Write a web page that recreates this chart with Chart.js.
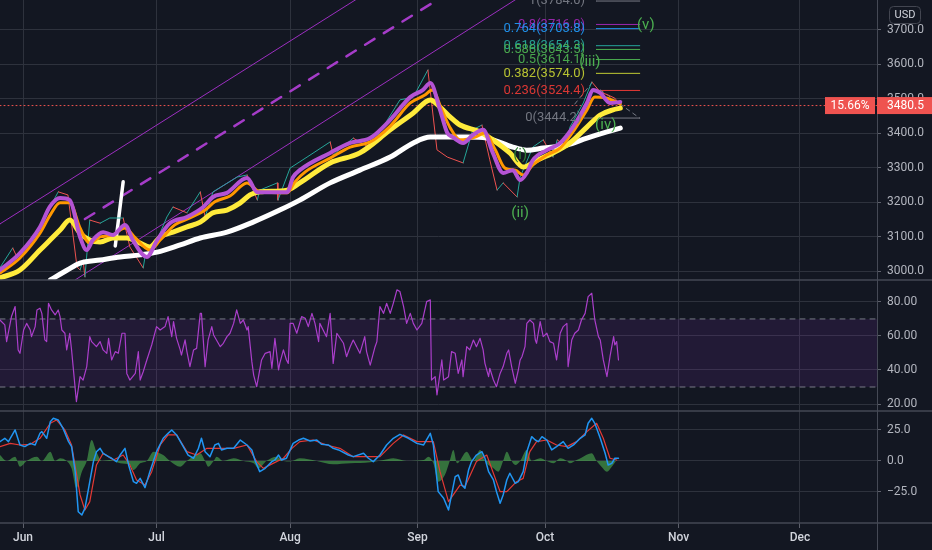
<!DOCTYPE html>
<html>
<head>
<meta charset="utf-8">
<script src="https://cdn.jsdelivr.net/npm/chart.js@4.4.0/dist/chart.umd.min.js"></script>
<style>
  html, body { margin: 0; padding: 0; background: #131722; }
  #wrap { position: relative; width: 932px; height: 550px; }
  canvas { display: block; }
</style>
</head>
<body>
<div id="wrap"><canvas id="chart" width="932" height="550"></canvas></div>
<script>
// x values are trading-day indexes, 0 = 1 Jun
const monthTickDays = [0, 22, 44, 65, 86, 108, 128];
const monthTickLabels = ['Jun', 'Jul', 'Aug', 'Sep', 'Oct', 'Nov', 'Dec'];
const priceTicks = [3000, 3100, 3200, 3300, 3400, 3500, 3600, 3700];
const rsiTicks = [20, 40, 60, 80];
const macdTicks = [-25, 0, 25];

// price pane: [day, price]
const emaFast = [[-3.8,3003],[-0.5,3052],[2.8,3128],[4.4,3186],[6.1,3212],[7.7,3206],[9.4,3099],[10.5,3061],[11.5,3090],[13.2,3113],[14.8,3105],[16.8,3134],[18.1,3090],[20.4,3041],[22.1,3090],[24.2,3139],[27,3157],[29.7,3186],[31.3,3215],[33.6,3227],[36.9,3270],[38.6,3229],[43.5,3229],[44.5,3273],[45.6,3293],[50.6,3343],[53.9,3372],[57.2,3386],[60.5,3439],[63.8,3505],[65.9,3526],[67.1,3546],[68.7,3468],[69.9,3401],[70.8,3389],[72.5,3372],[74.1,3395],[75.8,3410],[77.4,3343],[79.1,3285],[80.7,3293],[81.9,3264],[83,3285],[84,3322],[86.3,3351],[88.5,3372],[90.6,3418],[92.9,3488],[93.9,3526],[95.1,3517],[96.7,3488],[98.4,3491]];
const emaMid = [[-3.8,2994],[-0.5,3038],[2.8,3110],[4.5,3163],[6.1,3198],[7.7,3198],[9.4,3125],[11.0,3081],[12.7,3099],[14.8,3105],[16.8,3125],[18.5,3096],[20.9,3061],[22.6,3090],[25.0,3134],[27.5,3154],[30.0,3177],[31.6,3201],[34.1,3218],[36.9,3256],[39.0,3230],[43.5,3227],[44.8,3259],[46.5,3288],[50.6,3328],[53.9,3360],[57.2,3375],[60.5,3421],[63.8,3488],[66.2,3511],[67.4,3526],[69.0,3468],[70.4,3415],[72.0,3381],[74.5,3389],[76.1,3401],[77.8,3352],[79.4,3299],[81.1,3293],[82.4,3279],[84.0,3308],[86.3,3337],[88.5,3357],[90.6,3404],[92.9,3468],[94.2,3505],[95.9,3503],[98.4,3485]];
const emaSlow = [[-3.8,2980],[-0.5,3003],[2.8,3061],[6.1,3119],[7.7,3148],[9.4,3110],[11.0,3090],[12.7,3084],[14.8,3096],[17.1,3096],[19.3,3081],[20.9,3070],[22.6,3099],[24.7,3113],[27.0,3128],[29.2,3142],[31.3,3169],[33.6,3177],[35.8,3198],[37.4,3221],[39.0,3230],[43.5,3235],[45.6,3256],[50.6,3314],[55.5,3343],[60.5,3410],[64.3,3459],[67.1,3497],[68.7,3476],[70.4,3447],[72.0,3424],[75.3,3404],[77.4,3381],[80.2,3343],[82.4,3302],[84.7,3322],[87.3,3343],[90.1,3372],[92.9,3418],[95.1,3453],[97.2,3468],[98.4,3473]];
const maLong = [[4.5,2974],[7.3,3003],[9.4,3023],[12.7,3032],[16.0,3041],[19.3,3047],[22.1,3055],[25.9,3076],[29.2,3096],[33.6,3113],[37.9,3142],[42.3,3177],[45.6,3206],[50.6,3256],[55.5,3293],[60.5,3331],[64.3,3372],[67.1,3389],[68.7,3389],[73.2,3389],[76.4,3386],[80.7,3360],[83.0,3351],[85.7,3357],[89.6,3366],[92.9,3386],[96.2,3404],[98.4,3415]];
const priceSwings = [[-3.8,3010],[-1.7,3067],[-1.0,3041],[2.0,3105],[5.8,3230],[7.4,3221],[8.9,3012],[9.4,3003],[9.9,3032],[10.2,2983],[11.0,3148],[12.7,3139],[14.3,3154],[16.5,3154],[17.6,3070],[19.8,3009],[20.1,3041],[22.1,3090],[23.7,3157],[24.7,3186],[27.0,3169],[29.2,3230],[30.0,3157],[31.3,3230],[35.3,3273],[36.9,3279],[38.6,3206],[39.0,3235],[41.9,3256],[42.0,3206],[44.0,3299],[46.8,3331],[50.6,3375],[51.1,3337],[54.4,3386],[57.2,3357],[59.3,3418],[62.1,3497],[64.3,3505],[66.7,3584],[68.2,3352],[69.9,3331],[72.5,3314],[74.1,3410],[75.6,3424],[76.9,3323],[78.1,3235],[79.1,3256],[81.4,3215],[81.9,3273],[84.0,3360],[85.7,3381],[87.3,3331],[88.0,3381],[89.6,3360],[90.1,3418],[92.3,3488],[93.7,3549],[95.1,3520],[96.4,3511],[97.5,3502],[98.4,3480.5]];
const lastPrice = 3480.5;
const lastChange = '15.66%';

// drawings on the price pane
const channelUpper = [[-3.79,3137],[55.9,3800]];
const channelLower = [[8.57,2974],[82.2,3800]];
const channelMid = [[10.2,3151],[69.4,3800]];
const markStroke = [[15.2,3073],[16.5,3259]];
const projA = [[90.9,3485],[93.7,3546]];
const projB = [[95.1,3526],[101.6,3444]];
const fibLevels = [1, 0.8, 0.764, 0.618, 0.586, 0.5, 0.382, 0.236, 0];
const fibPrices = [3784.0, 3716.0, 3703.8, 3654.3, 3643.5, 3614.1, 3574.0, 3524.4, 3444.2];
const fibFrom = 94.4, fibTo = 101.6;
const waveNames = ['(i)', '(ii)', '(iii)', '(iv)', '(v)'];
const waveDays = [81.9, 81.9, 93.4, 96.0, 102.6];
const wavePrices = [3337, 3169, 3607, 3424, 3714];

// RSI pane
const rsi = [[-3.8,69.4],[-3.0,66.5],[-2.7,56.7],[-1.9,71.4],[-1.3,77.3],[-0.8,51.8],[-0.5,49.8],[0.1,63.5],[0.6,67.4],[1.2,63.5],[1.4,59.6],[2.0,65.5],[2.3,75.3],[2.8,76.3],[3.1,73.3],[3.6,57.7],[3.9,56.7],[4.2,79.2],[4.7,75.3],[5.3,72.4],[5.8,75.3],[6.1,71.4],[6.4,63.5],[6.9,61.6],[7.2,51.8],[7.7,61.6],[8.0,51.8],[8.8,21.4],[9.4,36.1],[9.9,34.1],[10.5,42],[11.0,59.6],[11.3,56.7],[12.1,53.7],[12.7,56.7],[13.2,51.8],[13.8,49.8],[14.1,58.6],[14.6,45.9],[15.2,50.8],[15.7,49.8],[16.3,61.6],[16.8,61.6],[17.1,38.0],[17.6,34.1],[18.5,38],[19.0,50.8],[19.3,34.1],[19.8,39],[20.4,45.9],[21.2,54.7],[22.0,65.5],[22.6,63.5],[23.4,65.5],[23.9,71.4],[24.5,59.6],[24.8,68.4],[25.3,58.6],[25.9,51.8],[26.1,48.8],[26.7,57.7],[27.0,50.8],[27.5,42],[28.1,51.8],[28.6,52.7],[29.2,73.3],[29.4,73.3],[30.0,42],[30.5,57.7],[31.1,65.5],[31.4,60.6],[32.5,53.7],[33.0,55.7],[33.6,59.6],[34.1,61.6],[34.7,67.4],[35.2,75.3],[35.8,67.4],[36.3,69.4],[36.9,63.5],[37.1,65.5],[37.7,44.9],[38.0,37.0],[38.5,30.2],[38.8,36.1],[39.3,45.9],[39.9,49.8],[40.7,50.8],[41.0,41],[41.5,58.6],[42.1,40],[42.3,43.9],[42.9,51.8],[43.4,45.9],[43.7,43.9],[44.0,67.4],[44.5,67.4],[45.1,61.6],[45.9,71.4],[46.5,70.4],[47.0,65.5],[47.6,73.3],[48.1,67.4],[48.7,56.7],[48.9,67.4],[50.0,59.6],[50.6,73.3],[51.1,43.9],[51.7,61.6],[52.8,55.7],[53.3,47.8],[53.9,53.7],[54.4,57.6],[55.5,49.8],[56.3,59.6],[56.6,50.8],[57.2,42.9],[58.0,53.7],[58.3,56.7],[58.8,77.3],[59.4,73.3],[59.9,79.2],[60.5,73.3],[61.0,79.2],[61.6,87.1],[62.1,86.1],[62.7,77.3],[63.2,67.4],[63.8,73.3],[64.3,67.4],[64.9,63.5],[65.7,67.4],[66.5,80.2],[67.1,81.2],[67.3,34.1],[67.9,36.1],[68.2,25.3],[68.7,38],[69.0,45.9],[69.3,34.1],[70.1,36.1],[70.6,50.8],[71.2,49.8],[71.7,38],[72.3,45.9],[72.5,36.1],[73.1,53.7],[73.6,51.8],[74.2,57.6],[74.7,53.7],[75.3,58.6],[75.8,51.8],[76.1,43.9],[76.7,36.1],[76.9,41],[77.5,34.1],[78.0,30.2],[78.6,38],[79.1,42],[79.7,49.8],[80.0,51.8],[80.5,42],[81.1,32.2],[81.6,40],[81.9,45.9],[82.2,47.8],[82.7,53.7],[83.0,67.4],[83.5,69.4],[84.1,67.4],[84.4,57.6],[84.6,55.7],[85.2,68.4],[85.7,59.6],[86.3,61.6],[86.8,56.7],[87.4,55.7],[87.9,45.9],[88.5,61.6],[89.0,65.5],[89.6,67.4],[89.8,42],[90.4,57.6],[90.9,61.6],[91.5,63.5],[92.0,69.4],[92.6,73.3],[93.1,83.1],[93.7,85.1],[94.2,69.4],[94.8,59.6],[95.1,57.6],[95.6,45.9],[96.2,36.1],[96.7,47.8],[97.3,59.6],[97.5,54.7],[97.8,56.7],[98.1,45.9]];
const rsiUpper = 70, rsiLower = 30;

// MACD pane
const macdLine = [[-3.8,15.6],[-3.0,18.3],[-2.4,15.6],[-1.3,25],[-0.5,12.9],[0.3,11.6],[1.2,14.2],[2.0,12.9],[2.8,22.3],[3.1,23.7],[3.9,18.3],[4.5,31.7],[5.0,34.4],[5.8,33.1],[6.6,26.3],[7.5,15.6],[8.0,11.6],[8.6,-8.6],[9.1,-40.9],[9.7,-43.5],[10.2,-38.2],[10.8,-22],[11.6,-0.5],[12.1,7.5],[12.7,10.2],[13.2,6.2],[14.1,3.5],[14.6,2.2],[15.4,-0.5],[16.0,4.8],[16.8,10.2],[17.4,-3.2],[18.2,-16.7],[18.7,-18],[19.3,-14],[20.1,-21.5],[20.9,-8.6],[22.0,7.5],[23.1,18.3],[23.9,22.3],[24.5,25],[25.3,21],[26.1,14.2],[27.2,4.8],[28.1,2.2],[28.9,10.2],[29.4,18.3],[30.0,7.5],[30.8,3.5],[31.6,12.9],[32.2,14.2],[32.7,8.9],[33.6,10.2],[34.7,10.2],[35.8,16.9],[36.9,12.9],[37.7,8.9],[38.2,0.8],[39.0,-8.6],[39.9,-5.9],[41.0,-0.5],[41.5,0.8],[42.1,4.8],[42.6,0.8],[43.4,2.2],[44.5,14.2],[45.4,16.9],[46.2,18.3],[47.3,16.1],[48.4,16.9],[49.2,13.4],[50.3,12.9],[51.1,10.2],[52.0,8.9],[53.6,4.8],[54.4,3.5],[56.1,6.2],[56.9,2.2],[57.7,-0.5],[58.8,4.8],[59.9,12.9],[61.0,18.3],[62.1,21.5],[63.5,18.3],[64.9,14.2],[66.0,12.9],[67.1,22.3],[67.6,12.9],[68.4,-24.7],[69.3,-30.1],[70.1,-39.5],[70.6,-27.4],[71.2,-12.6],[71.7,-11.3],[72.3,-19.4],[72.8,-22],[73.4,-7.3],[73.9,-0.5],[74.7,4.8],[75.6,7.5],[76.1,2.2],[76.7,-8.6],[77.5,-15.3],[78.0,-24.7],[78.6,-34.1],[79.1,-27.4],[79.7,-15.3],[80.2,-9.9],[81.1,-18],[81.6,-16.7],[82.4,-8.6],[83.0,7.5],[83.8,19.6],[84.4,16.9],[84.9,15.6],[85.5,19.6],[86.3,16.9],[87.1,8.9],[87.9,11.6],[89.0,15.6],[89.8,10.2],[90.7,12.9],[91.8,18.3],[92.6,21],[93.1,30.4],[93.7,34.4],[94.2,30.4],[95.1,18.3],[95.9,6.2],[96.4,-3.2],[97.0,-1.9],[97.5,2.2],[98.1,2.2]];
const signalLine = [[-3.8,11.6],[-2.1,14.2],[-0.5,12.9],[1.2,13.4],[2.8,18.3],[4.5,30.4],[5.5,33.1],[6.9,25],[8.0,12.9],[9.4,-27.4],[10.2,-39.5],[11.0,-32.8],[12.1,-3.2],[13.2,6.2],[14.9,0.8],[16.5,4.8],[17.6,-3.2],[18.7,-15.3],[20.1,-19.4],[21.2,-8.6],[22.6,12.9],[23.9,21],[25.3,21],[27.0,7.5],[28.6,4.8],[30.3,10.2],[31.9,10.2],[34.7,10.2],[36.9,12.9],[38.5,-0.5],[39.6,-5.9],[41.2,-1.9],[42.9,2.2],[44.3,10.2],[45.6,15.6],[47.8,16.9],[50.0,12.9],[52.2,10.2],[54.4,3.5],[56.6,3.5],[58.8,3.5],[61.0,14.2],[62.7,21],[64.9,15.6],[67.6,15.6],[68.7,-8.6],[70.1,-32.8],[72.0,-19.4],[72.8,-20.7],[74.7,-0.5],[76.4,4.8],[78.6,-24.7],[79.7,-24.7],[81.3,-16.7],[82.4,-14],[83.5,7.5],[84.6,15.6],[86.3,16.9],[87.9,12.9],[89.6,11.6],[91.2,15.6],[92.9,23.7],[94.5,30.4],[95.6,18.3],[96.7,2.2],[97.8,0.8]];
const macdHist = [[-3.8,4.8],[-2.7,0],[-1.3,3.5],[-0.5,-4.6],[0.6,0],[2.3,3.5],[3.1,0],[4.5,7.5],[5.3,0],[6.1,2.2],[7.2,0],[8.0,-5.9],[8.8,-22],[9.7,-8.6],[10.5,0],[11.3,17],[12.1,7.5],[13.0,0],[14.3,0.8],[16.0,-1.9],[17.6,-3.2],[18.2,-7.3],[19.3,-1.9],[20.4,0],[21.5,7.5],[23.1,4.8],[24.2,0],[25.9,-4.6],[27.0,0],[29.2,6.2],[30.0,0],[30.5,-4.6],[31.4,0],[31.9,3.5],[33.0,0],[34.7,2.2],[36.3,0],[38.0,-1.9],[38.8,-5.9],[40.1,0],[41.8,3.5],[42.9,0],[44.0,-0.5],[45.6,2.2],[48.4,0],[51.1,-2.7],[53.9,-1.9],[57.2,-1.1],[59.4,0.8],[61.0,2.2],[63.2,0],[66.0,0.8],[66.8,3.5],[67.6,-1.9],[68.4,-16.7],[69.5,-11.3],[70.3,0],[70.9,8.9],[71.5,-1.9],[73.1,7.5],[74.2,0],[75.3,8.9],[76.1,0],[77.5,-5.9],[78.3,-8.6],[79.1,0],[79.7,7.5],[80.5,0],[81.1,-3.2],[81.9,0],[83.0,8.9],[83.8,0],[85.2,2.2],[86.3,0],[87.4,-1.9],[88.5,2.2],[89.6,0],[90.1,-1.9],[91.2,0.8],[92.0,2.7],[93.7,6.2],[94.5,0],[95.3,-4.6],[96.2,-8.6],[97.0,-4.6],[97.8,0.8]];

// ---- styling ----
const X_MIN = -3.79, X_MAX = 140.69;
const BG = '#131722', GRID = '#2e323d', TXT = '#b2b5be', SEP = '#454955';
const FONT = 'Roboto';
const fibColors = ['#787b86', '#9c27b0', '#2196f3', '#26a69a', '#4caf50', '#4caf50', '#c0ca33', '#e53935', '#787b86'];

const xy = pairs => pairs.map(([x, y]) => ({ x, y }));
const line = (pairs, axis, style) => Object.assign({
  data: xy(pairs), yAxisID: axis, pointRadius: 0, fill: false, tension: 0, borderWidth: 1
}, style);

const datasets = [
  line(emaFast, 'yPrice', { borderColor: '#b453d4', borderWidth: 4, cubicInterpolationMode: 'monotone' }),
  line(emaMid, 'yPrice', { borderColor: '#ff9800', borderWidth: 3, cubicInterpolationMode: 'monotone' }),
  line(emaSlow, 'yPrice', { borderColor: '#ffeb3b', borderWidth: 5, cubicInterpolationMode: 'monotone' }),
  line(maLong, 'yPrice', { borderColor: '#ffffff', borderWidth: 5, cubicInterpolationMode: 'monotone' }),
  line(priceSwings, 'yPrice', {
    borderWidth: 1,
    segment: { borderColor: c => c.p1.parsed.y >= c.p0.parsed.y ? '#26a69a' : '#ef5350' }
  }),
  line(markStroke, 'yPrice', { borderColor: '#ffffff', borderWidth: 3.5 }),
  line(channelUpper, 'yPrice', { borderColor: '#9c2fc0', borderWidth: 1 }),
  line(channelLower, 'yPrice', { borderColor: '#9c2fc0', borderWidth: 1 }),
  line(channelMid, 'yPrice', { borderColor: '#a53cc8', borderWidth: 2.5, borderDash: [11, 11] }),
  line(projA, 'yPrice', { borderColor: '#787b86', borderDash: [4, 4] }),
  line(projB, 'yPrice', { borderColor: '#787b86', borderDash: [4, 4] }),
  ...fibPrices.map((p, i) => line([[i === 8 ? 92.4 : fibFrom, p], [fibTo, p]], 'yPrice', { borderColor: fibColors[i] })),
  line([[X_MIN, lastPrice], [X_MAX, lastPrice]], 'yPrice', { borderColor: '#ef5350', borderDash: [1, 3] }),

  line(rsi, 'yRsi', { borderColor: '#ab3fcb', borderWidth: 1.2 }),
  line([[X_MIN, rsiUpper], [X_MAX, rsiUpper]], 'yRsi', { borderColor: '#787b86', borderDash: [5, 5] }),
  line([[X_MIN, rsiLower], [X_MAX, rsiLower]], 'yRsi', {
    borderColor: '#787b86', borderDash: [5, 5],
    fill: { value: rsiUpper }, backgroundColor: 'rgba(140, 50, 190, 0.13)'
  }),

  line(macdLine, 'yMacd', { borderColor: '#2196f3', borderWidth: 1.5 }),
  line(signalLine, 'yMacd', { borderColor: '#e53935', borderWidth: 1.2 }),
  line(macdHist, 'yMacd', {
    borderWidth: 0, fill: 'origin', backgroundColor: 'rgba(76, 175, 80, 0.6)',
    cubicInterpolationMode: 'monotone'
  })
];

function fixTicks(values) {
  return scale => { scale.ticks = values.map(v => ({ value: v })); };
}
function fixWidth(scale) {
  scale.width = 55;
  scale.paddingTop = 0; scale.paddingBottom = 0;
}
const yAxis = (min, max, weight, ticks, fmt) => ({
  type: 'linear', position: 'right', stack: 'panes', stackWeight: weight,
  min, max,
  afterBuildTicks: fixTicks(ticks),
  afterFit: fixWidth,
  grid: { color: GRID, tickLength: 4, tickColor: '#5d606b' },
  border: { display: false },
  ticks: { color: TXT, padding: 6, font: { family: FONT, size: 12 }, callback: fmt }
});

const overlay = {
  id: 'overlay',
  afterDraw(chart) {
    const { ctx, chartArea, scales } = chart;
    const x = scales.x, yp = scales.yPrice;
    ctx.save();

    // fib level captions
    ctx.save();
    ctx.beginPath();
    ctx.rect(chartArea.left, yp.top, chartArea.right - chartArea.left, yp.bottom - yp.top);
    ctx.clip();
    ctx.font = `13px ${FONT}`;
    ctx.textAlign = 'right';
    ctx.textBaseline = 'middle';
    fibLevels.forEach((lv, i) => {
      ctx.fillStyle = fibColors[i];
      ctx.globalAlpha = 0.95;
      ctx.fillText(`${lv}(${fibPrices[i].toFixed(1)})`,
        x.getPixelForValue(i === 8 ? 92.0 : 92.6), yp.getPixelForValue(fibPrices[i]));
    });
    // wave counts
    ctx.globalAlpha = 1;
    ctx.font = `15px ${FONT}`;
    ctx.textAlign = 'center';
    waveNames.forEach((w, i) => {
      ctx.fillStyle = i === 0 ? '#2e7d32' : '#4caf50';
      ctx.fillText(w, x.getPixelForValue(waveDays[i]), yp.getPixelForValue(wavePrices[i]));
    });
    ctx.restore();

    // pane separators and axis border
    ctx.strokeStyle = SEP;
    ctx.lineWidth = 1.5;
    [scales.yPrice.bottom, scales.yRsi.bottom, chartArea.bottom].forEach(yy => {
      ctx.beginPath(); ctx.moveTo(0, yy); ctx.lineTo(chart.width, yy); ctx.stroke();
    });
    ctx.lineWidth = 1;
    ctx.beginPath();
    ctx.moveTo(chartArea.right + 0.5, 0); ctx.lineTo(chartArea.right + 0.5, chart.height);
    ctx.stroke();

    // last price labels
    const py = yp.getPixelForValue(lastPrice);
    ctx.fillStyle = '#ef5350';
    ctx.fillRect(chartArea.right, py - 8.5, chart.width - chartArea.right, 17);
    ctx.fillRect(chartArea.right - 52, py - 8.5, 50, 17);
    ctx.fillStyle = '#ffffff';
    ctx.font = `12px ${FONT}`;
    ctx.textBaseline = 'middle';
    ctx.textAlign = 'left';
    ctx.fillText(lastPrice.toFixed(1), chartArea.right + 10, py + 0.5);
    ctx.textAlign = 'center';
    ctx.fillText(lastChange, chartArea.right - 27, py + 0.5);

    // currency tag
    ctx.strokeStyle = '#434651';
    ctx.beginPath();
    ctx.roundRect(chartArea.right + 12.5, 6.5, 31, 17, 4);
    ctx.stroke();
    ctx.fillStyle = '#d1d4dc';
    ctx.font = `11px ${FONT}`;
    ctx.fillText('USD', chartArea.right + 28, 15.5);
    ctx.restore();
  }
};

new Chart(document.getElementById('chart'), {
  type: 'line',
  data: { datasets },
  plugins: [overlay],
  options: {
    responsive: false,
    animation: false,
    layout: { padding: 0 },
    elements: { line: { borderCapStyle: 'round', borderJoinStyle: 'round' }, point: { radius: 0 } },
    plugins: { legend: { display: false }, tooltip: { enabled: false } },
    scales: {
      x: {
        type: 'linear', min: X_MIN, max: X_MAX,
        afterBuildTicks: fixTicks(monthTickDays),
        afterFit: s => { s.height = 27; s.paddingLeft = 0; s.paddingRight = 0; },
        grid: { color: GRID, tickLength: 5, tickColor: '#5d606b' },
        border: { display: false },
        ticks: {
          color: '#d1d4dc', padding: 3, maxRotation: 0, autoSkip: false,
          font: { family: FONT, size: 12, weight: '500' },
          callback: v => monthTickLabels[monthTickDays.indexOf(v)]
        }
      },
      yPrice: yAxis(2974, 3787, 280, priceTicks, v => v.toFixed(1)),
      yRsi: yAxis(15.9, 92.9, 131, rsiTicks, v => v.toFixed(2)),
      yMacd: yAxis(-50, 40.3, 112, macdTicks, v => v.toFixed(1).replace('-', '\u2212'))
    }
  }
});
</script>
</body>
</html>
